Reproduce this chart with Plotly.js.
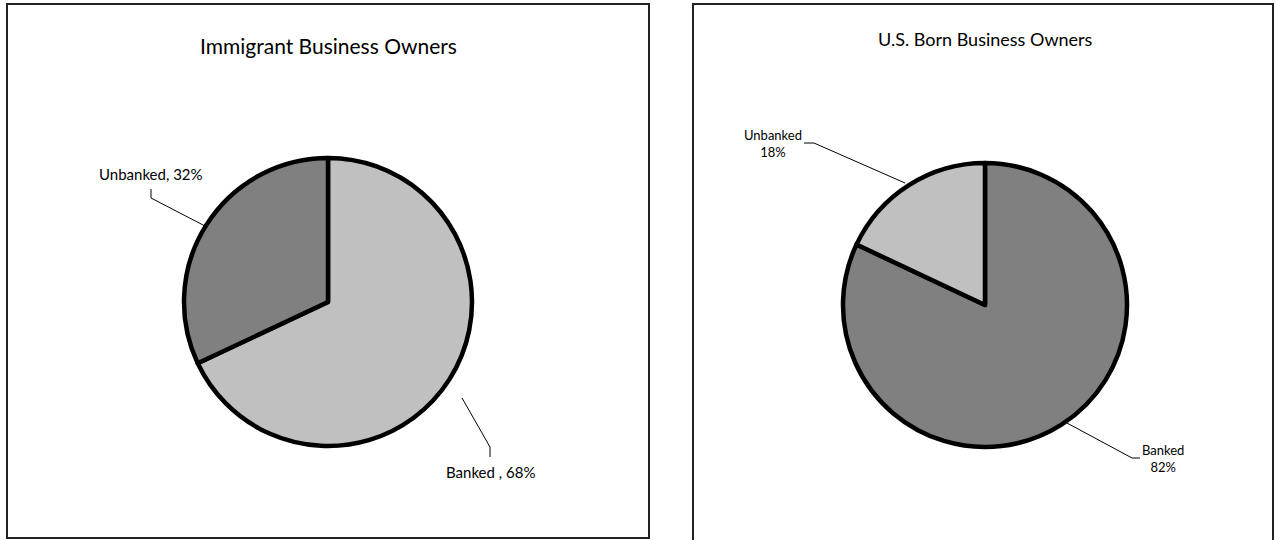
<!DOCTYPE html>
<html>
<head>
<meta charset="utf-8">
<script src="https://cdn.plot.ly/plotly-3.0.1.min.js"></script>
<style>
  html, body { margin: 0; padding: 0; background: #ffffff; }
  #chart { width: 1275px; height: 540px; }
</style>
</head>
<body>
<div id="chart"></div>
<script>
// Share of business owners with and without a bank account
const categories = ['Banked', 'Unbanked'];
const immigrantValues = [68, 32];
const usBornValues = [82, 18];
const immigrantTitle = 'Immigrant Business Owners';
const usBornTitle = 'U.S. Born Business Owners';

const W = 1275, H = 540;
const px = x => x / W;          // pixel x -> paper fraction
const py = y => 1 - y / H;      // pixel y (from top) -> paper fraction

const FONT = 'Lato, "Open Sans", sans-serif';
const LIGHT = '#c0c0c0', DARK = '#808080';

function pieTrace(values, colors, cx, cy, r) {
  return {
    type: 'pie',
    labels: categories,
    values: values,
    sort: false,
    direction: 'clockwise',
    rotation: 0,
    textinfo: 'none',
    hoverinfo: 'label+percent',
    showlegend: false,
    marker: { colors: colors, line: { color: '#000000', width: 4.5 } },
    domain: { x: [px(cx - r), px(cx + r)], y: [py(cy + r), py(cy - r)] }
  };
}

const traces = [
  pieTrace(immigrantValues, [LIGHT, DARK], 328, 302, 144),
  pieTrace(usBornValues, [DARK, LIGHT], 985, 305, 142)
];

function frame(x0, y0, x1, y1) {
  return { type: 'rect', xref: 'paper', yref: 'paper',
           x0: px(x0), x1: px(x1), y0: py(y1), y1: py(y0),
           line: { color: '#222222', width: 2 }, fillcolor: 'rgba(0,0,0,0)' };
}
function leader(points) {
  const d = points.map((p, i) => (i ? 'L' : 'M') + px(p[0]) + ',' + py(p[1])).join(' ');
  return { type: 'path', xref: 'paper', yref: 'paper', path: d,
           line: { color: '#000000', width: 1 } };
}
function note(text, x, y, size) {
  return { xref: 'paper', yref: 'paper', x: px(x), y: py(y),
           xanchor: 'center', yanchor: 'middle', showarrow: false,
           text: text, align: 'center',
           font: { family: FONT, size: size, color: '#000000' } };
}

const shapes = [
  frame(7, 4, 649, 538),
  frame(693, 4, 1273, 542),
  leader([[151, 189], [151, 198], [205, 226]]),
  leader([[462, 398], [490, 447], [490, 457]]),
  leader([[804, 143], [814, 143], [905, 183]]),
  leader([[1067, 423], [1132, 458], [1140, 458]])
];

const annotations = [
  note(immigrantTitle, 328, 46, 21),
  note(usBornTitle, 985, 39, 18),
  note('Unbanked, ' + immigrantValues[1] + '%', 151, 174, 15),
  note('Banked , ' + immigrantValues[0] + '%', 490, 472, 15),
  note('Unbanked<br>' + usBornValues[1] + '%', 773, 143, 13),
  note('Banked<br>' + usBornValues[0] + '%', 1163, 458, 13)
];

const layout = {
  width: W, height: H,
  margin: { l: 0, r: 0, t: 0, b: 0 },
  paper_bgcolor: '#ffffff',
  plot_bgcolor: '#ffffff',
  font: { family: FONT, color: '#000000' },
  shapes: shapes,
  annotations: annotations,
  showlegend: false
};

Plotly.newPlot('chart', traces, layout, { displayModeBar: false, staticPlot: true });
</script>
</body>
</html>
